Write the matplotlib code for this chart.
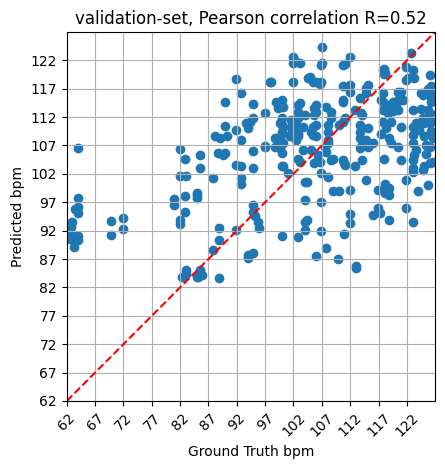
import numpy as np
import matplotlib
matplotlib.use("Agg")
import matplotlib.pyplot as plt

# ground truth / predicted bpm
gt_bpm = [
    # ~62-72
    63.9, 63.9, 63.5, 63.9, 63.9, 62.9, 62.7, 62.9, 63.9, 63.2, 63.9, 63.3, 62.6, 62.2, 62.3,
    69.8, 69.8, 72.0, 72.0,
    # ~80-86
    82.0, 82.8, 82.0, 83.0, 80.9, 80.9, 82.8, 82.8, 82.0, 82.0, 84.9, 84.9, 85.5, 85.5,
    82.3, 83.0, 83.0, 84.9, 85.5, 85.8, 85.2, 84.9,
    # ~87-92
    88.1, 89.0, 90.2, 87.8, 88.7, 89.6, 89.9, 89.9, 89.9, 88.9, 88.9, 87.8, 88.9,
    # ~91-97
    91.9, 92.8, 91.9, 92.8, 91.9, 92.8, 92.8, 92.8, 94.9, 94.9, 94.3, 93.7, 94.0, 94.9,
    94.9, 96.9, 96.9, 97.0, 91.9, 94.9, 94.9, 95.2, 95.7, 96.0, 94.0, 94.9, 94.0,
    # ~97-100
    97.8, 98.1, 99.0, 99.9, 99.3, 100.2, 99.9, 99.9, 99.9, 99.3, 98.7, 99.6, 98.7, 99.6,
    100.2, 99.9, 99.9, 100.2, 99.9, 99.6, 100.2, 99.9,
    # ~101-105
    101.9, 102.2, 103.1, 101.9, 101.9, 102.8, 103.1, 102.8, 104.0, 102.2, 102.8, 102.8,
    102.8, 101.3, 101.6, 101.6, 101.6, 102.5, 103.7, 103.7, 102.8, 102.8, 103.1, 101.0,
    104.0, 104.0, 104.0, 104.0, 102.8, 104.5, 104.9, 105.4, 104.3, 104.3,
    # ~105-109
    107.0, 107.0, 106.9, 106.0, 106.9, 106.6, 106.0, 106.0, 105.7, 105.7, 107.8, 108.7,
    108.7, 105.4, 105.4, 106.0, 105.1, 106.0, 108.1, 108.1, 108.1, 108.1, 107.5, 105.1,
    106.3, 106.3, 107.8, 108.7, 106.6, 105.7, 106.9, 108.1, 106.9, 106.9, 107.8, 106.0,
    109.0, 109.0,
    # ~109-113
    111.1, 112.0, 110.7, 110.7, 111.9, 111.9, 110.7, 110.7, 112.8, 111.0, 110.1, 110.7,
    110.7, 111.0, 110.9, 112.8, 110.1, 111.9, 111.9, 111.9, 110.9, 109.8, 113.1, 113.1,
    # ~113-117
    113.7, 114.8, 114.8, 115.1, 113.9, 114.0, 113.7, 113.7, 113.7, 114.0, 115.1, 115.1,
    114.8, 116.0, 113.7, 114.0, 114.8, 116.9, 117.2, 116.0, 116.9,
    # ~117-120
    118.0, 118.0, 117.8, 118.1, 117.8, 117.8, 117.8, 118.6, 118.6, 119.5, 119.5, 117.8,
    118.4, 118.9, 119.2, 119.2, 120.4, 118.0, 118.1, 118.1, 118.9, 118.1, 118.9, 118.9,
    117.4, 117.4, 120.4, 120.4, 120.4, 120.1,
    # ~121-124
    121.9, 123.1, 123.2, 122.2, 122.8, 121.9, 121.0, 121.3, 121.0, 123.1, 123.1, 123.6,
    123.1, 123.1, 123.6, 123.3, 121.0, 123.1, 121.9, 123.1, 121.9, 123.1, 123.9, 124.5,
    124.8, 124.2, 123.1, 124.5, 124.8,
    # ~125-127
    126.0, 125.1, 126.0, 126.3, 126.0, 125.7, 125.1, 126.0, 125.1, 125.4, 126.6, 126.6,
    125.1, 124.9, 125.7, 126.0, 126.0, 126.3, 126.3, 126.0, 126.3, 125.4, 125.7,
]

pred_bpm = [
    106.5, 97.7, 95.8, 96.2, 95.1, 93.6, 92.7, 91.2, 91.1, 90.1, 90.4, 89.2, 90.6, 92.0, 93.0,
    93.7, 91.2, 94.2, 92.3,
    106.3, 104.6, 101.6, 101.6, 97.5, 96.5, 98.1, 95.3, 93.9, 93.2, 98.3, 97.7, 105.3, 103.0,
    83.9, 85.1, 84.4, 83.8, 85.1, 84.2, 83.9, 98.6,
    108.7, 108.3, 108.7, 101.2, 105.6, 105.3, 105.6, 110.5, 114.6, 92.4, 90.4, 88.6, 83.6,
    118.7, 116.3, 109.7, 108.0, 103.6, 103.3, 101.2, 100.3, 114.3, 111.8, 111.2, 110.9, 110.0, 106.1,
    103.0, 112.8, 106.9, 106.8, 92.1, 96.5, 95.3, 94.5, 93.6, 92.4, 87.7, 88.0, 87.1,
    118.2, 118.2, 114.7, 115.0, 113.6, 113.8, 111.8, 110.6, 109.4, 108.3, 108.3, 107.1, 106.8, 106.5,
    107.4, 105.6, 103.3, 103.3, 91.1, 110.9, 110.3, 109.1,
    122.5, 121.9, 121.6, 121.5, 118.2, 114.1, 114.4, 112.9, 112.4, 110.9, 110.3, 109.1,
    108.6, 108.6, 111.5, 110.3, 109.1, 108.0, 110.3, 106.2, 111.8, 104.7, 104.1, 102.1,
    100.6, 97.4, 93.6, 92.1, 90.8, 118.8, 119.1, 118.2, 100.6, 93.9,
    124.4, 121.6, 121.2, 118.2, 118.2, 117.9, 114.1, 112.9, 113.6, 112.4, 113.8, 112.9,
    111.8, 110.3, 108.8, 110.6, 109.4, 108.6, 110.6, 109.4, 108.0, 107.4, 106.8, 106.2,
    105.4, 104.5, 105.9, 104.4, 104.1, 103.9, 102.1, 101.5, 97.1, 92.0, 88.9, 87.5,
    104.7, 99.0,
    121.3, 122.5, 121.2, 117.4, 117.7, 116.5, 115.0, 114.7, 113.3, 111.8, 110.6, 111.2,
    104.4, 103.6, 103.9, 103.3, 99.0, 99.2, 94.9, 93.3, 91.4, 87.0, 85.7, 85.4,
    115.3, 117.1, 116.2, 117.7, 112.7, 112.4, 110.6, 109.4, 108.3, 107.1, 106.8, 110.0,
    108.0, 107.4, 106.5, 104.4, 101.0, 95.9, 95.1, 94.8, 99.2,
    120.4, 119.6, 120.3, 119.7, 116.2, 114.7, 113.3, 114.1, 112.7, 114.7, 113.0, 111.2,
    110.0, 108.3, 107.4, 111.2, 106.8, 104.6, 100.3, 99.2, 99.5, 98.6, 98.3, 93.9,
    109.0, 115.0, 116.5, 115.0, 113.3, 114.1,
    120.9, 120.3, 118.9, 118.9, 123.3, 118.5, 116.5, 115.0, 110.3, 113.3, 110.3, 110.9,
    108.8, 107.4, 106.2, 105.3, 104.4, 103.0, 100.9, 102.4, 95.9, 93.6, 98.9, 116.2,
    115.9, 109.7, 104.4, 113.5, 111.8,
    119.4, 116.2, 116.2, 114.7, 112.7, 113.3, 110.9, 110.9, 108.6, 107.1, 108.3, 104.1,
    103.3, 102.7, 100.0, 103.9, 106.8, 117.5, 115.5, 111.5, 109.5, 105.5, 117.0,
]

r_value = 0.52
lo, hi = 62, 127

fig = plt.figure(figsize=(4.45, 4.69), dpi=100)
ax = fig.add_axes([0.150, 0.145, 0.828, 0.787])

ax.scatter(gt_bpm, pred_bpm)
ax.axline((lo, lo), slope=1, color="red", ls="--")

ax.set_xlim(lo, hi)
ax.set_ylim(lo, hi)
ax.set_xticks(np.arange(lo, hi, 5))
ax.set_yticks(np.arange(lo, hi, 5))
plt.setp(ax.get_xticklabels(), rotation=45)
ax.grid(True)

ax.set_title(f"validation-set, Pearson correlation R={r_value}")
ax.set_xlabel("Ground Truth bpm")
ax.set_ylabel("Predicted bpm")

fig.savefig("out.png", dpi=100)
